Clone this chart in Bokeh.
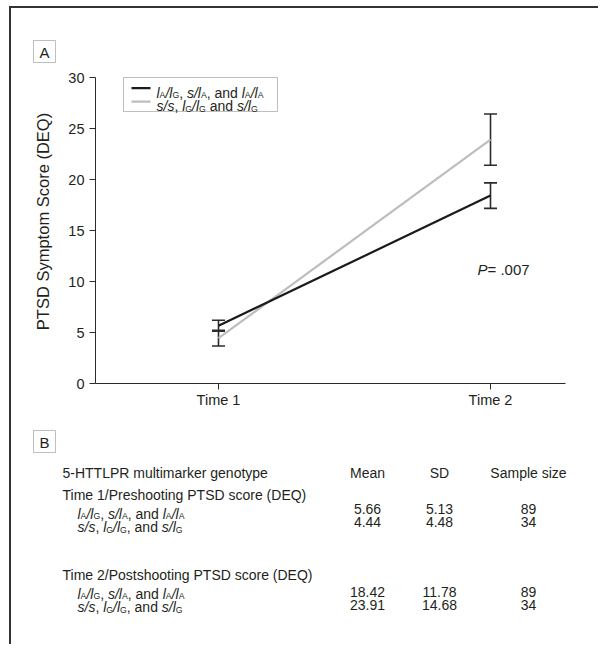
import math
from bokeh.plotting import figure
from bokeh.models import (Label, BoxAnnotation, Range1d, FixedTicker,
                          ColumnDataSource, Whisker, TeeHead)
from bokeh.embed import file_html
from bokeh.resources import INLINE

# ---------------- data ----------------
times = ["Time 1", "Time 2"]
time_pos = [1, 2]
mean_a = [5.66, 18.42]
sd_a = [5.13, 11.78]
n_a = [89, 89]
mean_b = [4.44, 23.91]
sd_b = [4.48, 14.68]
n_b = [34, 34]
y_ticks = [0, 5, 10, 15, 20, 25, 30]
y_label = "PTSD Symptom Score (DEQ)"
col_headers = ["5-HTTLPR multimarker genotype", "Mean", "SD", "Sample size"]
sections = ["Time 1/Preshooting PTSD score (DEQ)",
            "Time 2/Postshooting PTSD score (DEQ)"]
p_value = ".007"
panel_letters = ["A", "B"]
# genotype labels as runs: i = italic, s = subscript, n = roman
geno_a = [("l", "i"), ("A", "s"), ("/", "i"), ("l", "i"), ("G", "s"), (", ", "n"),
          ("s/l", "i"), ("A", "s"), (", and ", "n"),
          ("l", "i"), ("A", "s"), ("/", "i"), ("l", "i"), ("A", "s")]
geno_b = [("s/s", "i"), (", ", "n"), ("l", "i"), ("G", "s"), ("/", "i"), ("l", "i"),
          ("G", "s"), (", and ", "n"), ("s/l", "i"), ("G", "s")]
geno_b_legend = [("s/s", "i"), (", ", "n"), ("l", "i"), ("G", "s"), ("/", "i"),
                 ("l", "i"), ("G", "s"), (" and ", "n"), ("s/l", "i"), ("G", "s")]

sem_a = [s / math.sqrt(n) for s, n in zip(sd_a, n_a)]
sem_b = [s / math.sqrt(n) for s, n in zip(sd_b, n_b)]

# ---------------- style / layout ----------------
FONT = "Liberation Sans"
TXT = "#231f20"
LINE = "#2b2b2b"
RULE = "#333333"
BLACK = "#1a1a1a"
GRAY = "#bdbdbd"
TS = 14
WF, HF = 598, 644
# pixel placement of the plotting area
AX_L, AX_R = 95, 565          # x extent of the x axis
PX_T1, PX_T2 = 218, 490       # pixel x of Time 1 / Time 2
PY_0, PY_30 = 383, 77         # pixel y of 0 and 30

ux = (PX_T2 - PX_T1) / (time_pos[1] - time_pos[0])
X0 = time_pos[0] - PX_T1 / ux
X1 = X0 + WF / ux
uy = (PY_0 - PY_30) / (y_ticks[-1] - y_ticks[0])
Y1 = PY_0 / uy
Y0 = -(HF - PY_0) / uy

AW = {' ': 278, ',': 278, '.': 278, '/': 278, '-': 333, '(': 333, ')': 333, '=': 584,
      'A': 667, 'B': 667, 'D': 722, 'E': 667, 'G': 778, 'H': 722, 'L': 556, 'M': 833,
      'P': 667, 'Q': 778, 'R': 722, 'S': 667, 'T': 611,
      'a': 556, 'c': 500, 'd': 556, 'e': 556, 'g': 556, 'h': 556, 'i': 222, 'k': 500,
      'l': 222, 'm': 833, 'n': 556, 'o': 556, 'p': 556, 'r': 333, 's': 500, 't': 278,
      'u': 556, 'y': 500, 'z': 500}


def tw(s, size):
    return sum(AW.get(c, 556) for c in s) / 1000.0 * size


p = figure(width=WF, height=HF, output_backend="svg", toolbar_location=None,
           x_range=Range1d(X0, X1), y_range=Range1d(Y0, Y1), min_border=0)
p.outline_line_color = None
p.grid.visible = False
p.background_fill_color = "white"
p.border_fill_color = "white"


def label(x, y, text, size=TS, style="normal", align="left", baseline="middle",
          color=TXT, angle=0.0):
    p.add_layout(Label(x=x, y=y, x_units="canvas", y_units="canvas", text=text,
                       text_font=FONT, text_font_size=f"{size:.1f}px",
                       text_font_style=style, text_color=color, text_align=align,
                       text_baseline=baseline, angle=angle))


def box(l, r, t, b, fill=None, line=LINE, lw=1.0):
    p.add_layout(BoxAnnotation(left=l, right=r, top=t, bottom=b,
                               left_units="canvas", right_units="canvas",
                               top_units="canvas", bottom_units="canvas",
                               fill_color=fill if fill else "white",
                               fill_alpha=1.0 if fill else 0.0,
                               line_color=line, line_width=lw))


def rich(x, ymid, runs, size=TS):
    base = ymid + 0.36 * size
    for text, st in runs:
        fs = size * 0.62 if st == "s" else size
        core = text.lstrip(" ")
        x += tw(text[:len(text) - len(core)], fs)
        if st == "s":
            label(x, base + 0.2 * size, core, size=fs, baseline="alphabetic")
        else:
            label(x, base, core, size=fs, style="italic" if st == "i" else "normal",
                  baseline="alphabetic")
        x += tw(core, fs)


# ---------------- axes ----------------
for ax in (p.xaxis[0], p.yaxis[0]):
    ax.axis_line_color = LINE
    ax.axis_line_width = 1
    ax.major_tick_line_color = LINE
    ax.major_tick_in = 0
    ax.major_tick_out = 6
    ax.minor_tick_line_color = None
    ax.major_label_text_font = FONT
    ax.major_label_text_font_size = "14.5px"
    ax.major_label_text_color = TXT
p.xaxis.ticker = FixedTicker(ticks=time_pos)
p.xaxis.major_label_overrides = {t: s for t, s in zip(time_pos, times)}
p.xaxis.major_label_standoff = 2
p.xaxis.fixed_location = y_ticks[0]
p.xaxis.bounds = (X0 + AX_L / ux, X0 + AX_R / ux)
p.yaxis.ticker = FixedTicker(ticks=y_ticks)
p.yaxis.fixed_location = X0 + AX_L / ux
p.yaxis.bounds = (y_ticks[0], y_ticks[-1])

# ---------------- data marks ----------------
p.line(time_pos, mean_b, line_color=GRAY, line_width=2.2)
p.line(time_pos, mean_a, line_color=BLACK, line_width=2.2)

for means, sems in ((mean_a, sem_a), (mean_b, sem_b)):
    src = ColumnDataSource(dict(x=time_pos,
                                lo=[m - e for m, e in zip(means, sems)],
                                hi=[m + e for m, e in zip(means, sems)]))
    p.add_layout(Whisker(source=src, base="x", lower="lo", upper="hi",
                         line_color=LINE, line_width=1.6,
                         lower_head=TeeHead(size=13, line_color=LINE, line_width=1.6),
                         upper_head=TeeHead(size=13, line_color=LINE, line_width=1.6)))

# ---------------- decorations ----------------
box(8.5, WF, 5.5, 7.5, fill=RULE, line=None)      # outer top rule
box(8.5, 10.5, 5.5, HF, fill=RULE, line=None)     # outer left rule

label(42, 221, y_label, size=16.5, align="center", angle=math.pi / 2)

for letter, top in zip(panel_letters, (40, 430)):
    box(33, 55, top, top + 22, line=LINE, lw=1)
    label(44, top + 11.5, letter, size=15, align="center")

# legend
box(123, 277, 77, 111, fill="white", line=LINE, lw=1)
box(131, 150, 86.5, 88.7, fill=BLACK, line=None)
box(131, 150, 100, 102.2, fill=GRAY, line=None)
rich(156, 87, geno_a)
rich(156, 100.5, geno_b_legend)

# P value
rich(477, 264, [("P", "i"), ("= " + p_value, "n")], size=15)

# ---------------- table ----------------
col_x = [62, 367, 439, 528]
label(col_x[0], 472, col_headers[0])
for x, h in zip(col_x[1:], col_headers[1:]):
    label(x, 472, h, align="center")

sec_y = [494, 574]
val_shift = [0, 3]
for i, sec in enumerate(sections):
    y0 = sec_y[i]
    label(62, y0, sec)
    rows = [(geno_a, mean_a[i], sd_a[i], n_a[i]), (geno_b, mean_b[i], sd_b[i], n_b[i])]
    for j, (g, m, s, n) in enumerate(rows):
        yr = y0 + 14 + 13.5 * j
        rich(77, yr, g)
        yv = yr + val_shift[i]
        label(col_x[1], yv, f"{m:.2f}", align="center")
        label(col_x[2], yv, f"{s:.2f}", align="center")
        label(col_x[3], yv, f"{n}", align="center")

open("out.html", "w").write(file_html(p, INLINE))
